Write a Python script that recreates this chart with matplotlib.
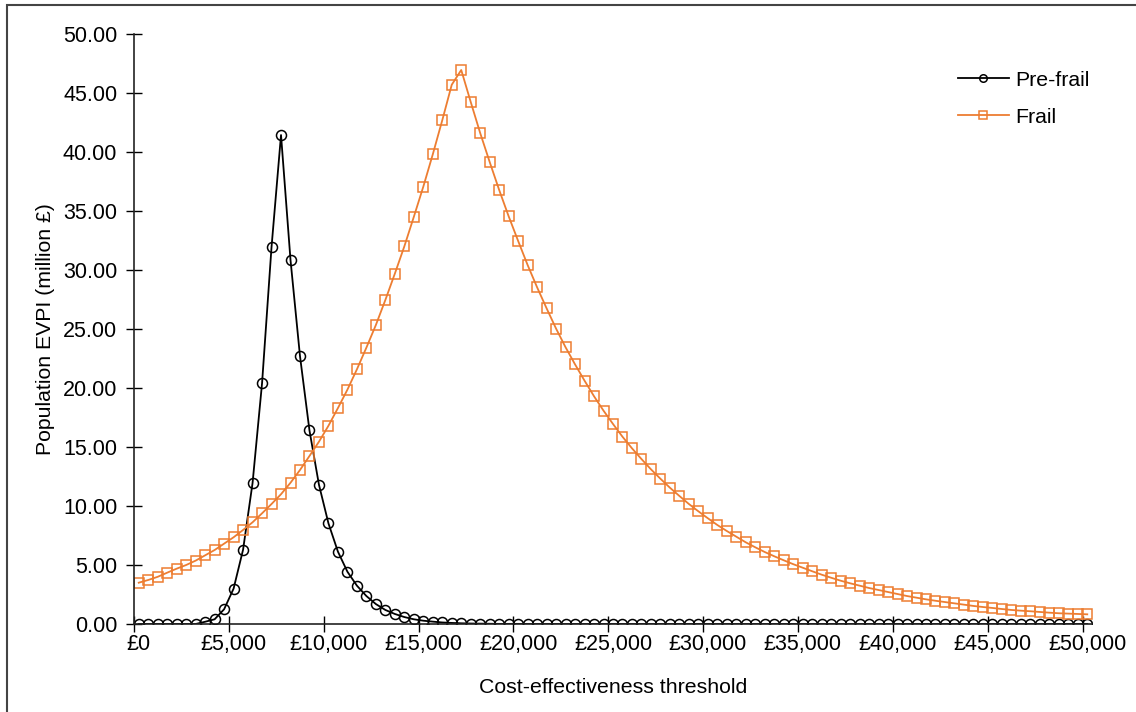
import numpy as np
import matplotlib
matplotlib.use("Agg")
import matplotlib.pyplot as plt
from matplotlib.patches import Rectangle

plt.rcParams['font.family'] = ['Liberation Sans', 'DejaVu Sans']

# thresholds in £, every £500
thresholds = np.arange(0, 50001, 500)

# population EVPI (million £)
pre_frail = [0.00, 0.00, 0.00, 0.00, 0.00, 0.00, 0.00, 0.19, 0.40, 1.25,
             3.00, 6.30, 11.95, 20.40, 31.95, 41.44, 30.85, 22.70, 16.40, 11.80,
             8.53, 6.13, 4.43, 3.25, 2.37, 1.69, 1.19, 0.85, 0.59, 0.40,
             0.28, 0.20, 0.13, 0.09, 0.06, 0.04, 0.03, 0.02, 0.01, 0.01,
             0.01, 0.00, 0.00, 0.00, 0.00, 0.00, 0.00, 0.00, 0.00, 0.00,
             0.00, 0.00, 0.00, 0.00, 0.00, 0.00, 0.00, 0.00, 0.00, 0.00,
             0.00, 0.00, 0.00, 0.00, 0.00, 0.00, 0.00, 0.00, 0.00, 0.00,
             0.00, 0.00, 0.00, 0.00, 0.00, 0.00, 0.00, 0.00, 0.00, 0.00,
             0.00, 0.00, 0.00, 0.00, 0.00, 0.00, 0.00, 0.00, 0.00, 0.00,
             0.00, 0.00, 0.00, 0.00, 0.00, 0.00, 0.00, 0.00, 0.00, 0.00,
             0.00]
frail = [3.50, 3.73, 4.00, 4.35, 4.69, 5.00, 5.37, 5.82, 6.27, 6.81,
         7.35, 7.97, 8.62, 9.38, 10.17, 11.00, 11.97, 13.05, 14.24, 15.45,
         16.80, 18.30, 19.86, 21.58, 23.42, 25.34, 27.46, 29.69, 32.00, 34.50,
         37.06, 39.80, 42.69, 45.70, 46.95, 44.24, 41.60, 39.15, 36.78, 34.55,
         32.46, 30.42, 28.53, 26.75, 25.03, 23.45, 22.00, 20.62, 19.30, 18.08,
         16.95, 15.87, 14.89, 13.98, 13.11, 12.31, 11.55, 10.85, 10.17, 9.55,
         8.96, 8.39, 7.88, 7.40, 6.92, 6.50, 6.10, 5.74, 5.40, 5.07,
         4.77, 4.47, 4.18, 3.92, 3.67, 3.45, 3.25, 3.05, 2.88, 2.71,
         2.54, 2.37, 2.23, 2.09, 1.97, 1.86, 1.75, 1.64, 1.53, 1.44,
         1.36, 1.27, 1.19, 1.13, 1.08, 1.02, 0.96, 0.91, 0.88, 0.85,
         0.82]

tick_vals = np.arange(0, 50001, 5000)
tick_labels = ['£{:,}'.format(v) for v in tick_vals]

fig = plt.figure(figsize=(11.36, 7.12), dpi=100)
ax = fig.add_axes([134/1136, 1-624/712, (1092-134)/1136, (624-34)/712])

ax.plot(thresholds, pre_frail, color='black', lw=1.3, marker='o', ms=7.2,
        mfc='none', mec='black', mew=1.1, label='Pre-frail')
ax.plot(thresholds, frail, color='#ED7D31', lw=1.3, marker='s', ms=7.2,
        mfc='none', mec='#ED7D31', mew=1.1, label='Frail')

ax.set_xlim(-250, 50250)
ax.set_ylim(0, 50)

# labels centred on the points, tick marks on the category edges
ax.set_xticks(tick_vals)
ax.set_xticklabels(tick_labels)
ax.set_xticks(tick_vals - 250, minor=True)
ax.tick_params(axis='x', which='major', length=0, pad=7, labelsize=15.5)
ax.tick_params(axis='x', which='minor', direction='inout', length=12, width=1)

ax.set_yticks(np.arange(0, 50.1, 5))
ax.set_yticklabels(['{:.2f}'.format(v) for v in np.arange(0, 50.1, 5)])
ax.tick_params(axis='y', direction='inout', length=12, width=1, pad=6, labelsize=15.5)

for s in ['top', 'right']:
    ax.spines[s].set_visible(False)
for s in ['left', 'bottom']:
    ax.spines[s].set_linewidth(1.2)
    ax.spines[s].set_color('#222222')

ax.set_xlabel('Cost-effectiveness threshold', fontsize=15.3, labelpad=17)
ax.set_ylabel('Population EVPI (million £)', fontsize=15.3, labelpad=6)

ax.legend(loc='upper left', bbox_to_anchor=(947/1136, 1-60/712),
          bbox_transform=fig.transFigure, frameon=False, fontsize=15.3,
          handlelength=2.4, handletextpad=0.3, labelspacing=0.85,
          borderpad=0, markerscale=0.75)

# outer chart frame (cut off on the right and bottom)
fig.patches.append(Rectangle((7/1136, -0.1), 1.2, 1 - 5/712 + 0.1,
                             transform=fig.transFigure, fill=False,
                             edgecolor='#444444', lw=1.5))

fig.savefig('out.png', dpi=100)
